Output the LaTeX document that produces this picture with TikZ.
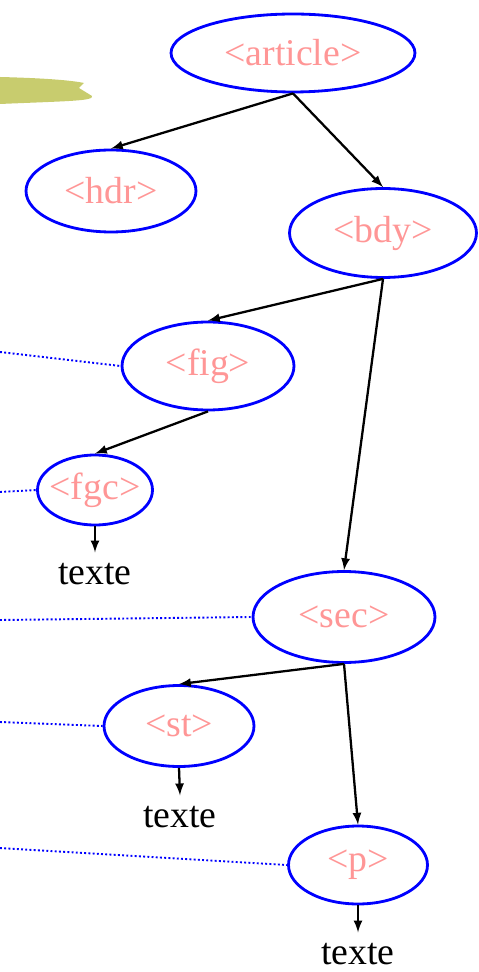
\documentclass[tikz,border=0pt]{standalone}
\usepackage{fontspec}
\setmainfont{Liberation Serif}
\usetikzlibrary{shapes.geometric}
\definecolor{tagpink}{RGB}{255,150,150}
\definecolor{blobgreen}{RGB}{200,204,110}

\begin{document}
\begin{tikzpicture}[x=0.02cm, y=-0.02cm,
	tag/.style={draw=blue, line width=1.6pt, ellipse, inner sep=0pt, text=tagpink, font=\fontsize{21.5}{25}\selectfont},
	texte/.style={inner sep=6pt, font=\fontsize{21.5}{25}\selectfont},
	edge/.style={->, >=latex, line width=1.3pt},
	link/.style={blue, line width=1.1pt, dash pattern=on 1.1pt off 1.3pt}]
	\useasboundingbox (0,0) rectangle (479,972);
	\fill[blobgreen] (0,77) .. controls (40,78) and (70,80) .. (84,83) -- (79,88) -- (92,96) .. controls (94,101) and (70,101) .. (0,104) -- cycle;

	\node[tag, minimum width=4.88cm, minimum height=1.56cm] (article) at (293,53) {<article>};
	\node[tag, minimum width=3.4cm, minimum height=1.64cm] (hdr) at (111,191) {<hdr>};
	\node[tag, minimum width=3.74cm, minimum height=1.78cm] (bdy) at (383,233) {<bdy>};
	\node[tag, minimum width=3.44cm, minimum height=1.76cm] (fig) at (208,366) {<fig>};
	\node[tag, minimum width=2.3cm, minimum height=1.4cm, inner xsep=-3pt] (fgc) at (95,490) {<fgc>};
	\node[tag, minimum width=3.64cm, minimum height=1.82cm] (sec) at (344,617) {<sec>};
	\node[tag, minimum width=3.0cm, minimum height=1.62cm] (st) at (179,726) {<st>};
	\node[tag, minimum width=2.78cm, minimum height=1.56cm] (p) at (358,865) {<p>};

	\node[texte] (t1) at (95,574) {texte};
	\node[texte] (t2) at (180,817) {texte};
	\node[texte] (t3) at (358,954) {texte};

	\coordinate (r1) at (0,352);
	\coordinate (r2) at (0,492);
	\coordinate (r3) at (0,620);
	\coordinate (r4) at (0,722);
	\coordinate (r5) at (0,848);

	\draw[edge] (article.south) -- (hdr.north);
	\draw[edge] (article.south) -- (bdy.north);
	\draw[edge] (bdy.south) -- (fig.north);
	\draw[edge] (bdy.south) -- (sec.north);
	\draw[edge] (fig.south) -- (fgc.north);
	\draw[edge] (sec.south) -- (st.north);
	\draw[edge] (sec.south) -- (p.north);
	\draw[edge] (fgc.south) -- (t1.north);
	\draw[edge] (st.south) -- (t2.north);
	\draw[edge] (p.south) -- (t3.north);

	\draw[link] (r1) -- (fig.west);
	\draw[link] (r2) -- (fgc.west);
	\draw[link] (r3) -- (sec.west);
	\draw[link] (r4) -- (st.west);
	\draw[link] (r5) -- (p.west);
\end{tikzpicture}
\end{document}
